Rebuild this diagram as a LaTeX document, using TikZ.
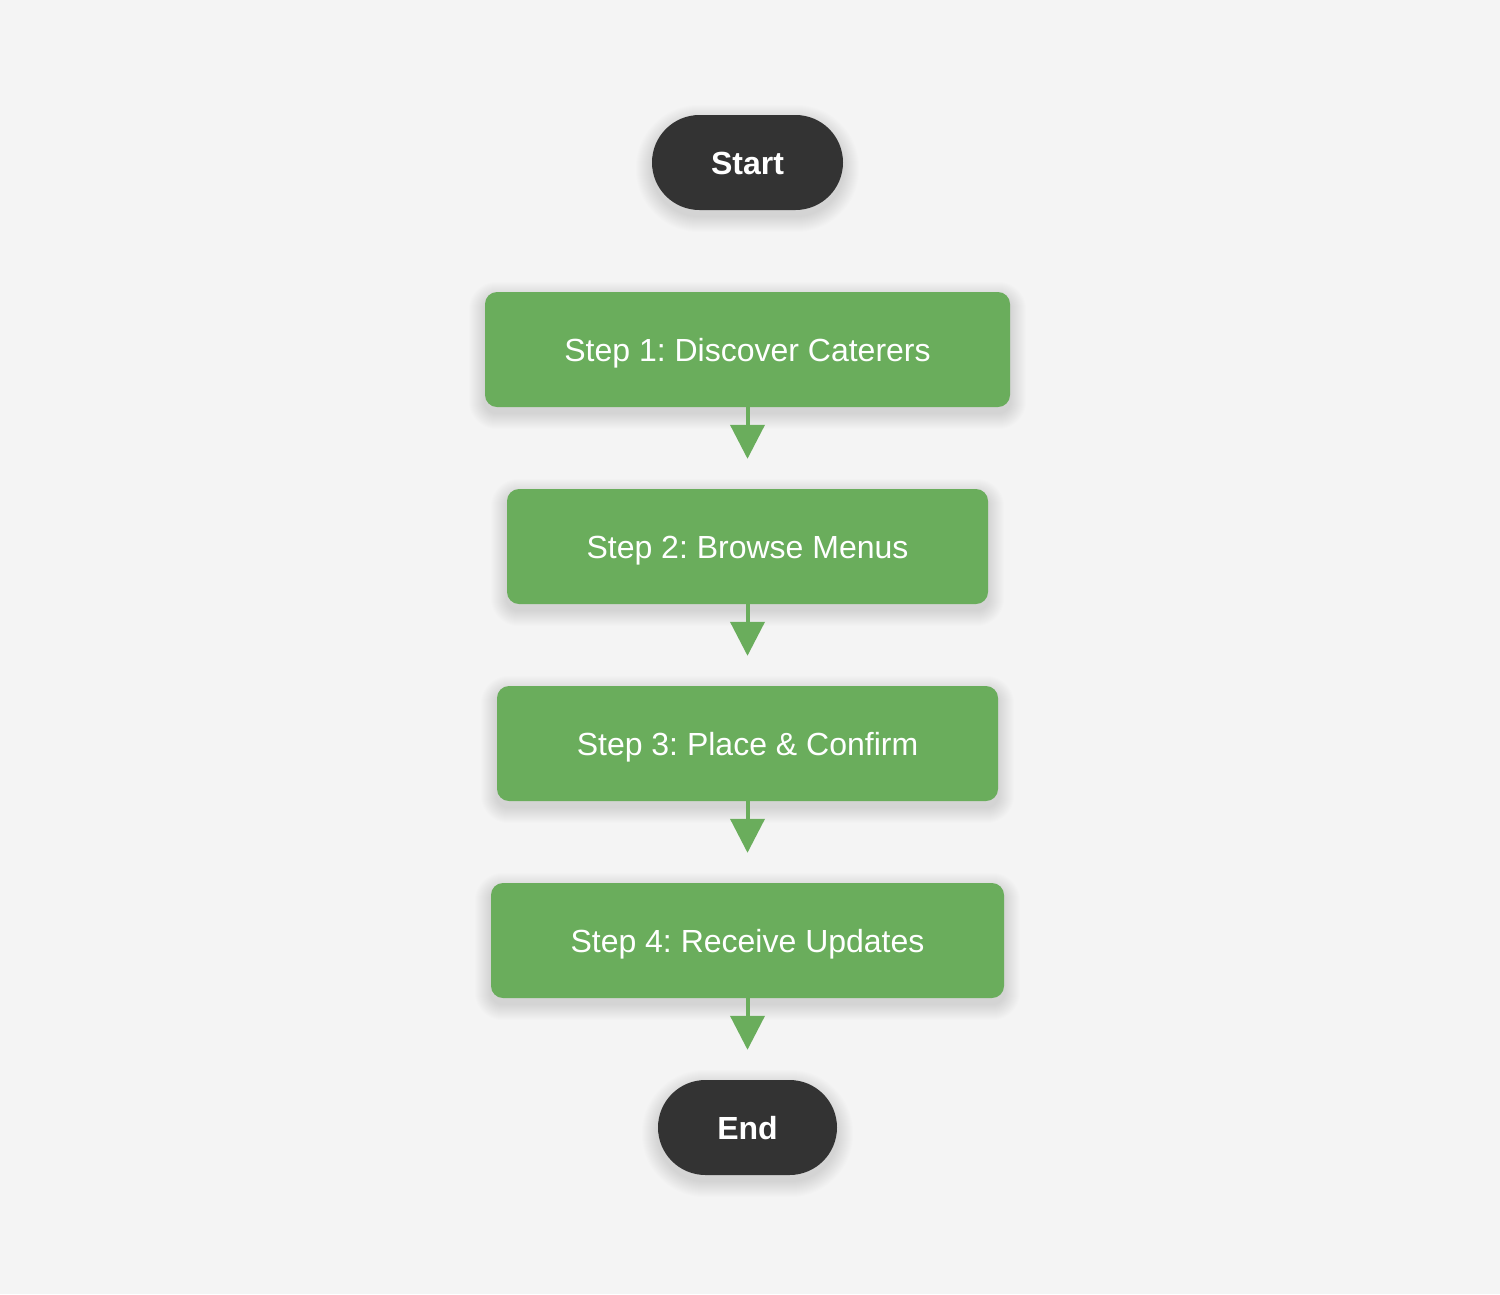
\documentclass[tikz,border=0pt]{standalone}
\usepackage{fontspec}
\setmainfont{Liberation Sans}
\frenchspacing
\usetikzlibrary{arrows.meta,backgrounds}
\definecolor{bg}{HTML}{F4F4F4}
\definecolor{stepgreen}{HTML}{6AAD5C}
\definecolor{pilldark}{HTML}{333333}
\tikzset{
  stepbox/.style={rectangle, rounded corners=12pt, fill=stepgreen, text=white, inner sep=0pt,
    minimum height=115pt, text height=23pt, text depth=0pt, font=\fontsize{32pt}{38pt}\selectfont},
  pill/.style={rectangle, rounded corners=47.5pt, fill=pilldark, text=white, inner sep=0pt,
    minimum height=95pt, text height=23pt, text depth=0pt, font=\fontsize{32pt}{38pt}\selectfont\bfseries},
  flow/.style={draw=stepgreen, line width=4pt, -{Triangle[width=34pt,length=34pt]}, shorten >=30pt},
  shadowlayer/.style={fill=black, opacity=0.008}
}
\begin{document}
\begin{tikzpicture}[x=1pt,y=-1pt]
\begin{pgfonlayer}{background}
\fill[bg] (0,0) rectangle (1500,1294);
\end{pgfonlayer}
\useasboundingbox (0,0) rectangle (1500,1294);
\node[pill, minimum width=191pt] (start) at (747.5,162.5) {Start};
\node[stepbox, minimum width=525pt] (s1) at (747.5,349.5) {Step 1: Discover Caterers};
\node[stepbox, minimum width=481pt] (s2) at (747.5,546.5) {Step 2: Browse Menus};
\node[stepbox, minimum width=501pt] (s3) at (747.5,743.5) {Step 3: Place \& Confirm};
\node[stepbox, minimum width=513pt] (s4) at (747.5,940.5) {Step 4: Receive Updates};
\node[pill, minimum width=179pt] (end) at (747.5,1127.5) {End};
\begin{pgfonlayer}{background}
\foreach \n/\r in {start/47.5,s1/12,s2/12,s3/12,s4/12,end/47.5}{
  \foreach \i in {1,...,16}{
    \fill[shadowlayer, rounded corners=\r pt+\i pt]
      ([shift={(-\i,6-\i)}]\n.north west) rectangle ([shift={(\i,6+\i)}]\n.south east);
  }
}
\end{pgfonlayer}
\draw[flow] (s1.south) -- (s2.north);
\draw[flow] (s2.south) -- (s3.north);
\draw[flow] (s3.south) -- (s4.north);
\draw[flow] (s4.south) -- (end.north);
\end{tikzpicture}
\end{document}
